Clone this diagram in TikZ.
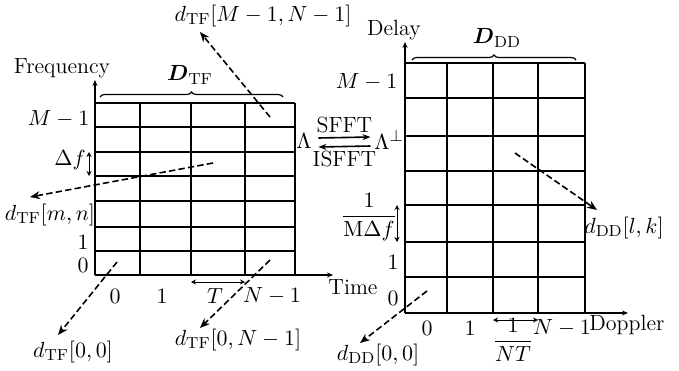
\documentclass[tikz,border=0pt]{standalone}
\usepackage{amsmath}
\usetikzlibrary{arrows.meta,decorations.pathreplacing}

\begin{document}
\begin{tikzpicture}[x=0.5pt,y=-0.5pt,line width=0.8pt,
  font=\fontsize{11}{13}\selectfont,
  >={Stealth[length=4pt,width=3pt]},
  cell/.style={line width=0.8pt},
  lbl/.style={inner sep=1pt},
  pointer/.style={-{Stealth[length=5pt,width=4pt]},line width=0.8pt,dash pattern=on 3.2pt off 1.6pt},
  span/.style={{Stealth[length=2.5pt,width=2.5pt]}-{Stealth[length=2.5pt,width=2.5pt]},line width=0.5pt},
  axis/.style={-{Stealth[length=3pt,width=2.5pt]},line width=0.6pt},
  grp/.style={decorate,decoration={brace,amplitude=2.5pt},line width=0.6pt}]
\useasboundingbox (0,0) rectangle (679,370);

% time-frequency grid
\foreach \x [count=\i from 0] in {95,140,191,245,295}
  \foreach \y [count=\j from 0] in {275,251,227,201,176,152,127,103}
    \coordinate (L\i-\j) at (\x,\y);
\foreach \i in {0,...,4} \draw[cell] (L\i-0) -- (L\i-7);
\foreach \j in {0,...,7} \draw[cell] (L0-\j) -- (L4-\j);

\coordinate (tfy) at (95,80);
\coordinate (tfx) at (333,275);
\draw[axis] (L0-0) -- (tfy);
\draw[axis] (L0-0) -- (tfx);
\node[lbl] (freq) at (62,68) {Frequency};
\node[lbl] (time) at (353,287) {Time};
\node[lbl] (Dtf) at (190,75) {$\boldsymbol{D}_{\mathrm{TF}}$};
\draw[grp] (100,97) -- (283,97);

\node[lbl,anchor=east] (tfM) at (92,119) {$M-1$};
\node[lbl] (df) at (70,160) {$\Delta f$};
\draw[span] ([xshift=-3pt]L0-5) -- ([xshift=-3pt]L0-4);
\node[lbl] (tf1) at (83,242) {$1$};
\node[lbl] (tf0) at (83,265) {$0$};
\node[lbl] (tn0) at (115,296) {$0$};
\node[lbl] (tn1) at (162,296) {$1$};
\node[lbl] (tT) at (215,296) {$T$};
\node[lbl] (tN) at (272,296) {$N-1$};
\draw[span] ([yshift=-3.5pt]L2-0) -- ([yshift=-3.5pt]L3-0);

% SFFT / ISFFT
\node[lbl] (lam) at (304,141) {$\Lambda$};
\node[lbl] (lamp) at (389,140) {$\Lambda^{\perp}$};
\draw[->] ([xshift=2pt,yshift=1.5pt]lam.east) -- node[above,inner sep=2pt] {SFFT} ([xshift=-0.5pt,yshift=1.5pt]lamp.west);
\draw[->] ([xshift=-0.5pt,yshift=-3pt]lamp.west) -- node[below,inner sep=2pt] {ISFFT} ([xshift=2pt,yshift=-3pt]lam.east);

% delay-Doppler grid
\foreach \x [count=\i from 0] in {405,447,493,538,585}
  \foreach \y [count=\j from 0] in {313,277,242,205,171,136,98,63}
    \coordinate (R\i-\j) at (\x,\y);
\foreach \i in {0,...,4} \draw[cell] (R\i-0) -- (R\i-7);
\foreach \j in {0,...,7} \draw[cell] (R0-\j) -- (R4-\j);

\coordinate (ddy) at (405,42);
\coordinate (ddx) at (628,313);
\draw[axis] (R0-0) -- (ddy);
\draw[axis] (R0-0) -- (ddx);
\node[lbl] (delay) at (394,30) {Delay};
\node[lbl] (dopp) at (627,325) {Doppler};
\node[lbl] (Ddd) at (497,38) {$\boldsymbol{D}_{\mathrm{DD}}$};
\draw[grp] (412,60) -- (576,60);

\node[lbl,anchor=east] (ddM) at (400,82) {$M-1$};
\node[lbl] (dtau) at (369,217) {$\dfrac{1}{\mathrm{M}\Delta f}$};
\draw[span] ([xshift=-4pt]R0-2) -- ([xshift=-4pt]R0-3);
\node[lbl] (dd1) at (393,262) {$1$};
\node[lbl] (dd0) at (393,298) {$0$};
\node[lbl] (dk0) at (427,328) {$0$};
\node[lbl] (dk1) at (470,328) {$1$};
\node[lbl] (dnu) at (513,340) {$\dfrac{1}{NT}$};
\node[lbl] (dkN) at (562,328) {$N-1$};
\draw[span] ([yshift=-3.5pt]R2-0) -- ([yshift=-3.5pt]R3-0);

% sample pointers
\coordinate (p1) at (270,117); \coordinate (t1) at (200,32);
\coordinate (p2) at (213,163); \coordinate (t2) at (30,197);
\coordinate (p3) at (117,262); \coordinate (t3) at (58,335);
\coordinate (p4) at (270,260); \coordinate (t4) at (200,328);
\coordinate (p5) at (515,153); \coordinate (t5) at (597,210);
\coordinate (p6) at (427,291); \coordinate (t6) at (360,343);
\node[lbl] (dMN) at (263,16) {$d_{\mathrm{TF}}[M-1,N-1]$};
\node[lbl] (dmn) at (50,215) {$d_{\mathrm{TF}}[m,n]$};
\node[lbl] (d00) at (73,352) {$d_{\mathrm{TF}}[0,0]$};
\node[lbl] (d0N) at (238,340) {$d_{\mathrm{TF}}[0,N-1]$};
\node[lbl] (dlk) at (624,228) {$d_{\mathrm{DD}}[l,k]$};
\node[lbl] (e00) at (378,355) {$d_{\mathrm{DD}}[0,0]$};
\foreach \k in {1,...,6} \draw[pointer] (p\k) -- (t\k);
\end{tikzpicture}
\end{document}
